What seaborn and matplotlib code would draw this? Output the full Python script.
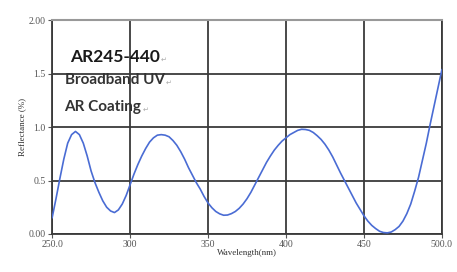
import numpy as np
import pandas as pd
import matplotlib
matplotlib.use("Agg")
import matplotlib.pyplot as plt
import seaborn as sns

# wavelength (nm) and reflectance (%)
wavelength = [250, 252.5, 255, 257.5, 260, 262.5, 265, 267.5, 270, 272.5,
              275, 277.5, 280, 282.5, 285, 287.5, 290, 292.5, 295, 297.5,
              300, 302.5, 305, 307.5, 310, 312.5, 315, 317.5, 320, 322.5,
              325, 327.5, 330, 332.5, 335, 337.5, 340, 342.5, 345, 347.5,
              350, 352.5, 355, 357.5, 360, 362.5, 365, 367.5, 370, 372.5,
              375, 377.5, 380, 382.5, 385, 387.5, 390, 392.5, 395, 397.5,
              400, 402.5, 405, 407.5, 410, 412.5, 415, 417.5, 420, 422.5,
              425, 427.5, 430, 432.5, 435, 437.5, 440, 442.5, 445, 447.5,
              450, 452.5, 455, 457.5, 460, 462.5, 465, 467.5, 470, 472.5,
              475, 477.5, 480, 482.5, 485, 487.5, 490, 492.5, 495, 497.5, 500]
reflectance = [0.15, 0.33, 0.52, 0.70, 0.85, 0.93, 0.96, 0.93, 0.85, 0.73,
               0.59, 0.48, 0.39, 0.31, 0.25, 0.215, 0.20, 0.225, 0.28, 0.36,
               0.46, 0.56, 0.65, 0.73, 0.80, 0.86, 0.90, 0.925, 0.93, 0.925,
               0.91, 0.875, 0.83, 0.77, 0.70, 0.62, 0.55, 0.48, 0.42, 0.35,
               0.29, 0.245, 0.21, 0.188, 0.175, 0.177, 0.19, 0.21, 0.24, 0.28,
               0.33, 0.39, 0.46, 0.53, 0.60, 0.67, 0.73, 0.785, 0.83, 0.87,
               0.90, 0.93, 0.95, 0.97, 0.98, 0.978, 0.97, 0.95, 0.92, 0.885,
               0.84, 0.785, 0.72, 0.645, 0.57, 0.50, 0.43, 0.36, 0.29, 0.23,
               0.17, 0.12, 0.08, 0.05, 0.025, 0.013, 0.01, 0.018, 0.04, 0.07,
               0.12, 0.19, 0.28, 0.40, 0.53, 0.69, 0.85, 1.03, 1.20, 1.37, 1.54]

x_ticks = [250, 300, 350, 400, 450, 500]
x_labels = ["250.0", "300", "350", "400", "450", "500.0"]
y_ticks = [0.0, 0.5, 1.0, 1.5, 2.0]
y_labels = ["0.00", "0.5", "1.0", "1.5", "2.00"]
notes = ["AR245-440", "Broadband UV", "AR Coating"]

df = pd.DataFrame({"wavelength": wavelength, "reflectance": reflectance})

sns.set_style("white")
fig = plt.figure(figsize=(4.57, 2.72), dpi=100)
ax = fig.add_axes([0.114, 0.14, 0.853, 0.785])

sns.lineplot(data=df, x="wavelength", y="reflectance", ax=ax,
             color="#4a6cd4", linewidth=1.2, zorder=3)

ax.set_xlim(250, 500)
ax.set_ylim(0, 2.0)
ax.set_xticks(x_ticks)
ax.set_xticklabels(x_labels)
ax.set_yticks(y_ticks)
ax.set_yticklabels(y_labels)

ax.grid(True, color="#3a3a3a", linewidth=1.3, zorder=1)
for side in ["left", "bottom", "right"]:
    ax.spines[side].set_color("#3a3a3a")
    ax.spines[side].set_linewidth(1.3)
ax.spines["top"].set_color("#999999")
ax.spines["top"].set_linewidth(1.5)

ax.tick_params(axis="both", labelsize=7, colors="#555555", length=3,
               width=0.8, direction="out", left=True, bottom=True, pad=1.5)
for lab in ax.get_xticklabels() + ax.get_yticklabels():
    lab.set_family("Liberation Serif")

ax.set_xlabel("Wavelength(nm)", fontsize=6.5, family="Liberation Serif",
              color="#333333", labelpad=0)
ax.set_ylabel("Reflectance (%)", fontsize=6.5, family="Liberation Serif",
              color="#333333", labelpad=2)

# text block with the small word-processor paragraph marks after each line
note_pos = [(261.5, 1.66, 12.5, "#1a1a1a"),
            (258, 1.44, 11, "#333333"),
            (258, 1.19, 11, "#333333")]
texts = []
for label, (x, y, size, col) in zip(notes, note_pos):
    t = ax.text(x, y, label, fontsize=size, fontweight="bold", family="Lato",
                color=col, va="center", zorder=4)
    texts.append(t)

fig.canvas.draw()
inv = ax.transData.inverted()
for t in texts:
    bb = t.get_window_extent()
    xr, yr = inv.transform((bb.x1 + 1, bb.y0 + bb.height * 0.3))
    ax.text(xr, yr, "\u21b5", fontsize=5, color="#aaaaaa",
            family="DejaVu Sans", va="center", zorder=4)

fig.savefig("out.png", dpi=100)
